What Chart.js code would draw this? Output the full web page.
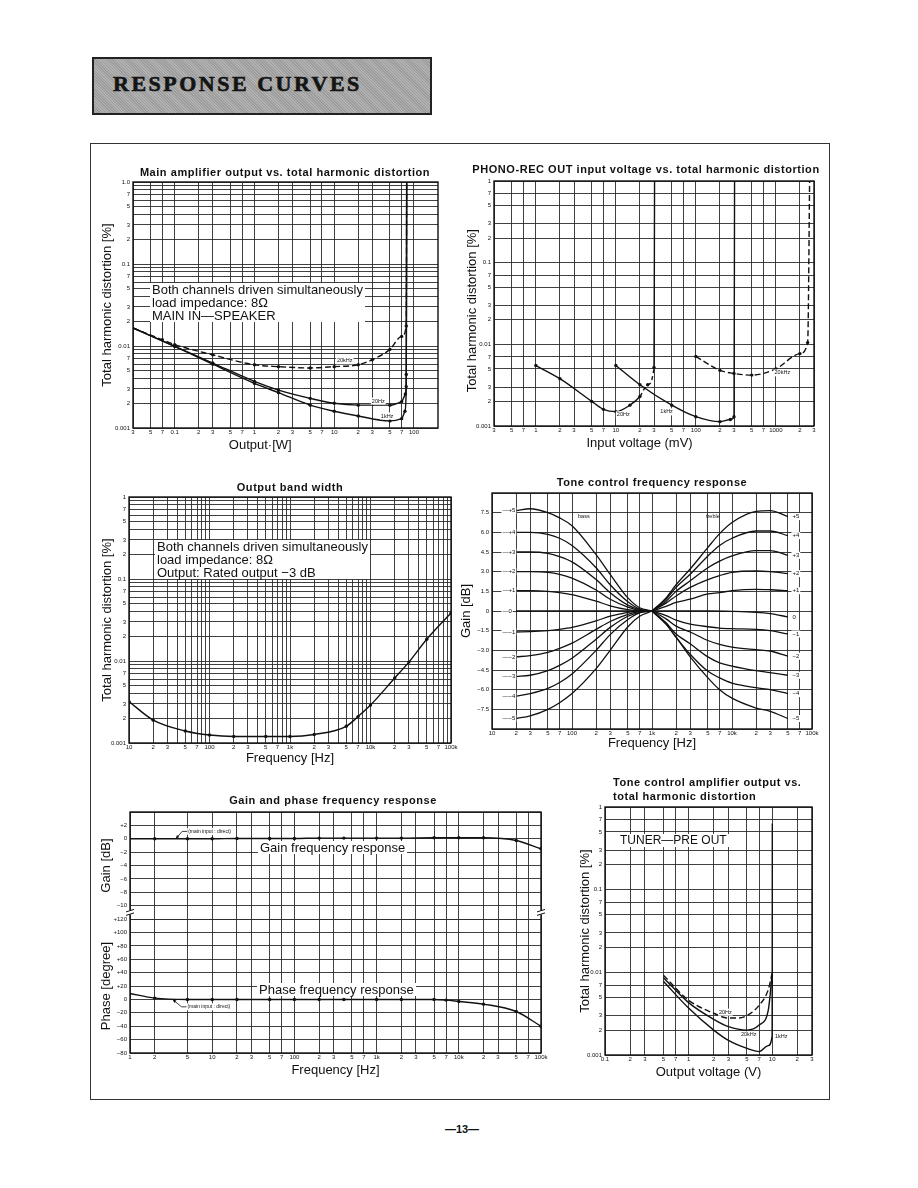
<!DOCTYPE html>
<html>
<head>
<meta charset="utf-8">
<title>Response curves</title>
<script src="https://cdn.jsdelivr.net/npm/chart.js@4.4.1/dist/chart.umd.min.js"></script>
<style>
  html, body { margin: 0; padding: 0; background: #fff; }
  body { position: relative; width: 918px; height: 1188px; overflow: hidden;
         font-family: "Liberation Sans", Arial, sans-serif; color: #111; }
  .abs { position: absolute; }
  canvas { position: absolute; }
  #banner { left: 92px; top: 57px; width: 336px; height: 54px; border: 2px solid #222;
            background: repeating-linear-gradient(45deg, #9c9c9c 0 1px, #b2b2b2 1px 2px); }
  #banner span { position: absolute; left: 19px; top: 12px; font: bold 22px "Liberation Serif", "DejaVu Serif", serif;
                 letter-spacing: 2.5px; color: #141414; -webkit-text-stroke: 0.6px #141414; }
  #frame { left: 90px; top: 143px; width: 738px; height: 955px; border: 1.5px solid #333; }
  .title { position: absolute; font-weight: bold; font-size: 11px; letter-spacing: 0.55px; white-space: nowrap; transform: translate(-50%, -50%); }
  .note { position: absolute; background: #fff; font-size: 13px; line-height: 13px; white-space: nowrap; padding: 0 2px; }
  #pageno { left: 462px; top: 1129px; font-weight: bold; font-size: 11px; transform: translate(-50%, -50%); }
</style>
</head>
<body>
<div id="banner" class="abs"><span>RESPONSE CURVES</span></div>
<div id="frame" class="abs"></div>

<canvas id="c1"></canvas>
<canvas id="c2"></canvas>
<canvas id="c3"></canvas>
<canvas id="c4"></canvas>
<canvas id="c5"></canvas>
<canvas id="c6"></canvas>

<div class="title" style="left:285px;top:172px">Main amplifier output vs. total harmonic distortion</div>
<div class="title" style="left:646px;top:169px">PHONO-REC OUT input voltage vs. total harmonic distortion</div>
<div class="title" style="left:290px;top:487px">Output band width</div>
<div class="title" style="left:652px;top:482px">Tone control frequency response</div>
<div class="title" style="left:333px;top:800px">Gain and phase frequency response</div>
<div class="title" style="left:613px;top:789px;transform:translateY(-50%);line-height:14px">Tone control amplifier output vs.<br>total harmonic distortion</div>

<div class="note" style="left:150px;top:283px">Both channels driven simultaneously<br>load impedance: 8Ω<br>MAIN IN—SPEAKER</div>
<div class="note" style="left:155px;top:540px">Both channels driven simultaneously<br>load impedance: 8Ω<br>Output: Rated output −3 dB</div>
<div class="note" style="left:258px;top:841px">Gain frequency response</div>
<div class="note" style="left:257px;top:983px">Phase frequency response</div>
<div class="note" style="left:618px;top:834px;font-size:12px">TUNER—PRE OUT</div>

<div id="pageno" class="abs">—13—</div>

<script>
const FONT = '"Liberation Sans", Arial, sans-serif';
const INK = '#111';

// ---------- axis ticks / labels ----------
const ampWTicks = [0.03, 0.05, 0.07, 0.1, 0.2, 0.3, 0.5, 0.7, 1, 2, 3, 5, 7, 10, 20, 30, 50, 70, 100];
const ampWLabels = ['3', '5', '7', '0.1', '2', '3', '5', '7', '1', '2', '3', '5', '7', '10', '2', '3', '5', '7', '100'];
const thdTicks = [0.001, 0.002, 0.003, 0.005, 0.007, 0.01, 0.02, 0.03, 0.05, 0.07, 0.1, 0.2, 0.3, 0.5, 0.7, 1];
const thdLabels = ['0.001', '2', '3', '5', '7', '0.01', '2', '3', '5', '7', '0.1', '2', '3', '5', '7', '1'];
const ampThdLabels = ['0.001', '2', '3', '5', '7', '0.01', '2', '3', '5', '7', '0.1', '2', '3', '5', '7', '1.0'];
const mvTicks = [0.3, 0.5, 0.7, 1, 2, 3, 5, 7, 10, 20, 30, 50, 70, 100, 200, 300, 500, 700, 1000, 2000, 3000];
const mvLabels = ['3', '5', '7', '1', '2', '3', '5', '7', '10', '2', '3', '5', '7', '100', '2', '3', '5', '7', '1000', '2', '3'];
const hzTicks = [10, 20, 30, 50, 70, 100, 200, 300, 500, 700, 1000, 2000, 3000, 5000, 7000,
                 10000, 20000, 30000, 50000, 70000, 100000];
const hzLabels = ['10', '2', '3', '5', '7', '100', '2', '3', '5', '7', '1k', '2', '3', '5', '7',
                  '10k', '2', '3', '5', '7', '100k'];
const gpHzTicks = [1, 2, 5, 10, 20, 30, 50, 70, 100, 200, 300, 500, 700, 1000, 2000, 3000, 5000, 7000,
                   10000, 20000, 30000, 50000, 70000, 100000];
const gpHzLabels = ['1', '2', '5', '10', '2', '3', '5', '7', '100', '2', '3', '5', '7', '1k', '2', '3', '5', '7',
                    '10k', '2', '3', '5', '7', '100k'];
const toneTicks = [-9, -7.5, -6, -4.5, -3, -1.5, 0, 1.5, 3, 4.5, 6, 7.5, 9];
const toneLabels = ['', '−7.5', '−6.0', '−4.5', '−3.0', '−1.5', '0', '1.5', '3.0', '4.5', '6.0', '7.5', ''];
const gainTicks = [-12, -10, -8, -6, -4, -2, 0, 2, 4];
const gainLabels = ['', '−10', '−8', '−6', '−4', '−2', '0', '+2', ''];
const phaseTicks = [-80, -60, -40, -20, 0, 20, 40, 60, 80, 100, 120];
const phaseLabels = ['−80', '−60', '−40', '−20', '0', '+20', '+40', '+60', '+80', '+100', '+120'];
const voltTicks = [0.1, 0.2, 0.3, 0.5, 0.7, 1, 2, 3, 5, 7, 10, 20, 30];
const voltLabels = ['0.1', '2', '3', '5', '7', '1', '2', '3', '5', '7', '10', '2', '3'];

// ---------- main amplifier output vs THD ----------
const ampW20k = [0.03, 0.07, 0.1, 0.3, 1, 2, 5, 10, 20, 30, 50, 70, 80, 81];
const ampThd20k = [0.0166, 0.0119, 0.0104, 0.0078, 0.0059, 0.0056, 0.0054, 0.0056, 0.0059, 0.0068, 0.0091, 0.0131, 0.0175, 1.2];
const ampW20 = [0.03, 0.1, 0.3, 1, 2, 5, 10, 20, 50, 70, 78, 80, 81];
const ampThd20 = [0.0166, 0.0099, 0.0062, 0.0037, 0.0029, 0.0023, 0.0020, 0.0019, 0.0019, 0.0021, 0.0026, 0.0045, 1.2];
const ampW1k = [0.03, 0.1, 0.3, 1, 2, 5, 10, 20, 50, 70, 77, 80, 81];
const ampThd1k = [0.0166, 0.0099, 0.006, 0.0035, 0.0027, 0.0019, 0.0016, 0.0014, 0.00122, 0.0013, 0.0016, 0.0032, 1.2];

// ---------- PHONO-REC OUT ----------
const phonoMv20 = [1, 2, 5, 7, 10, 15, 20, 25, 30, 30.5];
const phonoThd20 = [0.0055, 0.0038, 0.002, 0.0016, 0.0015, 0.0018, 0.0023, 0.0032, 0.0052, 1.2];
const phonoMv1k = [10, 20, 50, 100, 200, 270, 300, 305];
const phonoThd1k = [0.0055, 0.0032, 0.0018, 0.0013, 0.00113, 0.0012, 0.0013, 1.2];
const phonoMv20k = [100, 200, 300, 500, 1000, 2000, 2500, 2650];
const phonoThd20k = [0.0071, 0.0048, 0.0044, 0.0042, 0.005, 0.0077, 0.0105, 1.2];

// ---------- output band width ----------
const bwHz = [10, 20, 50, 100, 200, 500, 1000, 2000, 5000, 7000, 10000, 20000, 30000, 50000, 100000];
const bwThd = [0.0032, 0.0019, 0.0014, 0.00125, 0.0012, 0.0012, 0.0012, 0.00127, 0.0016, 0.0021, 0.0029, 0.0062, 0.0097, 0.0184, 0.0385];

// ---------- tone control (dB) ----------
const toneNames = ['+5', '+4', '+3', '+2', '+1', '−1', '−2', '−3', '−4', '−5'];
const bassHz = [20, 30, 50, 70, 100, 200, 300, 500, 700, 1000];
const bassP5 = [7.65, 7.8, 7.5, 7.1, 6.5, 4.3, 2.8, 1.0, 0.25, 0];
const bassP4 = [6.0, 6.0, 5.85, 5.55, 5.0, 3.3, 2.0, 0.7, 0.15, 0];
const bassP3 = [4.5, 4.5, 4.4, 4.15, 3.75, 2.4, 1.4, 0.45, 0.1, 0];
const bassP2 = [3.0, 3.0, 2.95, 2.8, 2.5, 1.6, 0.9, 0.3, 0.05, 0];
const bassP1 = [1.55, 1.55, 1.5, 1.4, 1.25, 0.75, 0.4, 0.1, 0, 0];
const bassM1 = [-1.6, -1.58, -1.5, -1.4, -1.25, -0.75, -0.4, -0.1, 0, 0];
const bassM2 = [-3.5, -3.4, -3.15, -2.85, -2.45, -1.4, -0.8, -0.25, -0.05, 0];
const bassM3 = [-5.0, -4.9, -4.55, -4.15, -3.6, -2.15, -1.25, -0.4, -0.1, 0];
const bassM4 = [-6.5, -6.3, -5.9, -5.45, -4.8, -3.0, -1.8, -0.65, -0.15, 0];
const bassM5 = [-8.2, -8.0, -7.5, -7.0, -6.3, -4.4, -3.0, -1.2, -0.4, 0];
const trebHz = [1000, 1500, 2000, 3000, 5000, 7000, 10000, 20000, 30000, 50000];
const trebP5 = [0, 1.0, 2.0, 3.2, 4.85, 5.9, 6.75, 7.6, 7.65, 7.2];
const trebP4 = [0, 0.9, 1.8, 2.8, 4.2, 5.0, 5.55, 6.1, 6.1, 5.75];
const trebP3 = [0, 0.75, 1.5, 2.3, 3.3, 3.8, 4.2, 4.6, 4.6, 4.25];
const trebP2 = [0, 0.6, 1.15, 1.8, 2.4, 2.7, 2.95, 3.05, 3.0, 2.85];
const trebP1 = [0, 0.35, 0.65, 0.9, 1.3, 1.4, 1.55, 1.65, 1.62, 1.55];
const trebM1 = [0, -0.35, -0.7, -1.0, -1.2, -1.3, -1.35, -1.4, -1.5, -1.75];
const trebM2 = [0, -0.6, -1.15, -1.6, -2.25, -2.55, -2.75, -2.95, -3.05, -3.45];
const trebM3 = [0, -0.9, -1.75, -2.5, -3.5, -3.95, -4.2, -4.55, -4.7, -4.9];
const trebM4 = [0, -1.0, -2.0, -3.3, -4.6, -5.1, -5.5, -5.85, -6.0, -6.3];
const trebM5 = [0, -1.0, -2.0, -3.5, -5.1, -6.0, -6.65, -7.4, -7.65, -8.2];
const flatHz = [20, 100, 1000, 5000, 10000, 20000, 30000, 50000];
const flat0 = [0, 0, 0, 0, -0.03, -0.1, -0.2, -0.45];

// ---------- gain and phase ----------
const gainHz = [1, 2, 5, 10, 20, 50, 100, 200, 400, 1000, 2000, 5000, 10000, 20000, 50000, 100000];
const gainDb = [0, 0, 0, 0, 0.05, 0.05, 0.05, 0.1, 0.1, 0.1, 0.1, 0.15, 0.15, 0.15, -0.25, -1.5];
const phaseHz = [1, 2, 5, 10, 20, 50, 100, 200, 400, 1000, 2000, 5000, 7000, 10000, 20000, 50000, 100000];
const phaseDeg = [9, 2, 0, 0, 0, 0, 0, 0, 0, 0, 0, 0, -1, -3, -7, -18, -40];

// ---------- tone control amplifier output vs THD ----------
const tcV20 = [0.5, 1, 2, 3, 4, 5, 7, 9, 10];
const tcThd20 = [0.0092, 0.0046, 0.0032, 0.0028, 0.0028, 0.003, 0.004, 0.0062, 0.0098];
const tcV20k = [0.5, 1, 2, 3, 5, 7, 9, 10];
const tcThd20k = [0.0086, 0.0043, 0.0027, 0.0022, 0.002, 0.0023, 0.0035, 0.0095];
const tcV1k = [0.5, 1, 2, 3, 5, 7, 9, 10, 10.05];
const tcThd1k = [0.0078, 0.0037, 0.002, 0.0015, 0.0012, 0.0011, 0.0013, 0.0017, 0.63];

// gridlines at every 1..9 step of a decade
function logGrid(min, max, mults) {
  const out = [];
  for (let e = Math.floor(Math.log10(min)); e <= Math.ceil(Math.log10(max)); e++) {
    for (const m of mults) {
      const v = +(m * Math.pow(10, e)).toPrecision(6);
      if (v >= min * 0.9999 && v <= max * 1.0001) out.push(v);
    }
  }
  return out;
}
const ALL = [1, 2, 3, 4, 5, 6, 7, 8, 9];

function labelFor(v, ticks, labels) {
  const i = ticks.findIndex(t => Math.abs(t - v) <= Math.abs(t) * 1e-6);
  return i < 0 ? '' : labels[i];
}

function scale(o) {
  const grid = o.grid || o.ticks;
  const horiz = o.pos === 'bottom';
  return {
    type: o.type || 'logarithmic',
    position: o.pos,
    min: o.min, max: o.max,
    stack: o.stack, stackWeight: o.stackWeight, weight: o.weight || 0,
    grid: { color: '#2b2b2b', lineWidth: 0.9, drawTicks: false },
    border: { display: false },
    ticks: {
      autoSkip: false, maxRotation: 0, padding: horiz ? 1 : 3, color: INK,
      font: { family: FONT, size: 6 },
      callback: v => labelFor(v, o.ticks, o.labels)
    },
    title: { display: !!o.title, text: o.title, color: INK, font: { family: FONT, size: 13 }, padding: 0 },
    afterBuildTicks: s => { s.ticks = grid.map(v => ({ value: v })); },
    afterFit: s => {
      if (s.isHorizontal()) s.height = o.size; else s.width = o.size;
      s.paddingLeft = s.paddingRight = s.paddingTop = s.paddingBottom = 0;
    }
  };
}

function curve(xs, ys, o = {}) {
  const n = xs.length;
  return {
    data: xs.map((x, i) => ({ x, y: ys[i] })),
    borderColor: INK, borderWidth: o.w || 1.4, borderDash: o.dash || [],
    cubicInterpolationMode: 'monotone', fill: false,
    pointRadius: xs.map((x, i) => {
      if (o.dots === false) return 0;
      if (o.rise && i === n - 1) return 0;
      if (o.skipFirst && i === 0) return 0;
      return 1.7;
    }),
    pointBackgroundColor: INK, pointBorderWidth: 0,
    yAxisID: o.axis || 'y',
    segment: o.segment
  };
}

// text placed at data coordinates
const curveText = {
  id: 'curveText',
  afterDatasetsDraw(chart, args, opts) {
    const ctx = chart.ctx;
    (opts.items || []).forEach(t => {
      const px = chart.scales.x.getPixelForValue(t.x);
      const py = chart.scales[t.axis || 'y'].getPixelForValue(t.y);
      ctx.save();
      ctx.font = (t.size || 6) + 'px ' + FONT;
      ctx.textAlign = 'left';
      ctx.textBaseline = 'middle';
      const w = ctx.measureText(t.text).width;
      if (t.bg) { ctx.fillStyle = '#fff'; ctx.fillRect(px - 1, py - 3.5, w + 2, 7); }
      ctx.fillStyle = INK;
      ctx.fillText(t.text, px, py);
      if (t.arrowTo) {
        const ax = chart.scales.x.getPixelForValue(t.arrowTo[0]);
        const ay = chart.scales[t.axis || 'y'].getPixelForValue(t.arrowTo[1]);
        ctx.strokeStyle = INK; ctx.lineWidth = 0.8;
        ctx.beginPath(); ctx.moveTo(px - 1, py); ctx.lineTo(px - 6, py); ctx.lineTo(ax, ay); ctx.stroke();
        const a = Math.atan2(ay - py, ax - (px - 6));
        ctx.beginPath();
        ctx.moveTo(ax, ay);
        ctx.lineTo(ax - 4 * Math.cos(a - 0.4), ay - 4 * Math.sin(a - 0.4));
        ctx.lineTo(ax - 4 * Math.cos(a + 0.4), ay - 4 * Math.sin(a + 0.4));
        ctx.closePath(); ctx.fillStyle = INK; ctx.fill();
      }
      ctx.restore();
    });
  }
};

// heavier border round the plot area
const plotFrame = {
  id: 'plotFrame',
  afterDraw(chart) {
    const { ctx, chartArea: a } = chart;
    ctx.save();
    ctx.strokeStyle = INK; ctx.lineWidth = 1.4;
    ctx.strokeRect(a.left, a.top, a.right - a.left, a.bottom - a.top);
    ctx.restore();
  }
};
Chart.register(curveText, plotFrame);

const PAD_TOP = 8, PAD_RIGHT = 14;
function place(id, plot, wy, hx) {
  const c = document.getElementById(id);
  c.width = wy + plot.r - plot.l + PAD_RIGHT;
  c.height = PAD_TOP + plot.b - plot.t + hx;
  c.style.left = (plot.l - wy) + 'px';
  c.style.top = (plot.t - PAD_TOP) + 'px';
  return c;
}

function plotChart(id, plot, wy, hx, scales, datasets, notes, extra) {
  return new Chart(place(id, plot, wy, hx), {
    type: 'line',
    data: { datasets },
    options: {
      responsive: false, animation: false,
      layout: { padding: { top: PAD_TOP, right: PAD_RIGHT, left: 0, bottom: 0 } },
      scales,
      plugins: { legend: { display: false }, tooltip: { enabled: false }, curveText: { items: notes || [] } }
    },
    plugins: extra || []
  });
}

// 1. Main amplifier output vs. THD
plotChart('c1', { l: 133, t: 182, r: 438, b: 428 }, 33, 25, {
  x: scale({ pos: 'bottom', min: 0.03, max: 200, ticks: ampWTicks, labels: ampWLabels,
             title: 'Output·[W]' + '\u00a0'.repeat(14), size: 25 }),
  y: scale({ pos: 'left', min: 0.001, max: 1, ticks: thdTicks, labels: ampThdLabels,
             grid: logGrid(0.001, 1, ALL), title: 'Total harmonic distortion [%]', size: 33 })
}, [
  curve(ampW20k, ampThd20k, { dash: [6, 3], rise: true, skipFirst: true }),
  curve(ampW20, ampThd20, { rise: true, skipFirst: true }),
  curve(ampW1k, ampThd1k, { rise: true, skipFirst: true })
], [
  { x: 10.8, y: 0.0066, text: '20kHz', size: 5.5, bg: true },
  { x: 29.6, y: 0.00213, text: '20Hz', size: 5.5, bg: true },
  { x: 38.4, y: 0.0014, text: '1kHz', size: 5.5, bg: true }
]);

// 2. PHONO-REC OUT input voltage vs. THD
plotChart('c2', { l: 494, t: 181, r: 814, b: 426 }, 29, 25, {
  x: scale({ pos: 'bottom', min: 0.3, max: 3000, ticks: mvTicks, labels: mvLabels,
             title: 'Input voltage (mV)' + '\u00a0'.repeat(8), size: 25 }),
  y: scale({ pos: 'left', min: 0.001, max: 1, ticks: thdTicks, labels: thdLabels,
             title: 'Total harmonic distortion [%]' + '\u00a0'.repeat(4), size: 29 })
}, [
  curve(phonoMv20, phonoThd20, { rise: true,
        segment: { borderDash: c => (c.p0.parsed.x >= 20 && c.p1.parsed.x <= 30 ? [4, 3] : undefined) } }),
  curve(phonoMv1k, phonoThd1k, { rise: true }),
  curve(phonoMv20k, phonoThd20k, { dash: [6, 3], rise: true })
], [
  { x: 10.3, y: 0.00137, text: '20Hz', size: 5.5, bg: true },
  { x: 36, y: 0.00149, text: '1kHz', size: 5.5, bg: true },
  { x: 964, y: 0.00447, text: '20kHz', size: 5.5, bg: true }
]);

// 3. Output band width
plotChart('c3', { l: 129, t: 497, r: 451, b: 743 }, 29, 23, {
  x: scale({ pos: 'bottom', min: 10, max: 100000, ticks: hzTicks, labels: hzLabels,
             grid: logGrid(10, 100000, ALL), title: 'Frequency [Hz]', size: 23 }),
  y: scale({ pos: 'left', min: 0.001, max: 1, ticks: thdTicks, labels: thdLabels,
             grid: logGrid(0.001, 1, ALL), title: 'Total harmonic distortion [%]', size: 29 })
}, [curve(bwHz, bwThd)]);

// 4. Tone control frequency response
const bassSet = [bassP5, bassP4, bassP3, bassP2, bassP1, bassM1, bassM2, bassM3, bassM4, bassM5];
const trebSet = [trebP5, trebP4, trebP3, trebP2, trebP1, trebM1, trebM2, trebM3, trebM4, trebM5];
const toneNotes = [
  { x: 13.5, y: 0, text: '—0', bg: true },
  { x: 57000, y: flat0[flat0.length - 1], text: '0', bg: true },
  { x: 119, y: 7.2, text: 'bass', size: 5.5 },
  { x: 4730, y: 7.2, text: 'treble', size: 5.5 }
];
toneNames.forEach((n, i) => {
  toneNotes.push({ x: 13.5, y: bassSet[i][0], text: '—' + n, bg: true });
  toneNotes.push({ x: 57000, y: trebSet[i][trebSet[i].length - 1], text: n, bg: true });
});
plotChart('c4', { l: 492, t: 493, r: 812, b: 729 }, 33, 22, {
  x: scale({ pos: 'bottom', min: 10, max: 100000, ticks: hzTicks, labels: hzLabels,
             title: 'Frequency [Hz]', size: 22 }),
  y: scale({ type: 'linear', pos: 'left', min: -9, max: 9, ticks: toneTicks, labels: toneLabels,
             title: 'Gain [dB]', size: 33 })
}, [
  ...bassSet.map(ys => curve(bassHz, ys, { dots: false, w: 1.3 })),
  ...trebSet.map(ys => curve(trebHz, ys, { dots: false, w: 1.3 })),
  curve(flatHz, flat0, { dots: false, w: 1.3 })
], toneNotes);

// 5. Gain and phase frequency response
const breakMarks = {
  id: 'breakMarks',
  afterDraw(chart) {
    const { ctx, chartArea: a } = chart;
    const y = chart.scales.yG.getPixelForValue(-11);
    [a.left, a.right].forEach(x => {
      ctx.save();
      ctx.fillStyle = '#fff'; ctx.fillRect(x - 3, y - 2, 6, 4);
      ctx.strokeStyle = INK; ctx.lineWidth = 1;
      ctx.beginPath();
      ctx.moveTo(x - 4, y - 0.5); ctx.lineTo(x + 4, y - 3);
      ctx.moveTo(x - 4, y + 3); ctx.lineTo(x + 4, y + 0.5);
      ctx.stroke();
      ctx.restore();
    });
  }
};
plotChart('c5', { l: 130, t: 812, r: 541, b: 1053 }, 31, 25, {
  x: scale({ pos: 'bottom', min: 1, max: 100000, ticks: gpHzTicks, labels: gpHzLabels,
             title: 'Frequency [Hz]', size: 25 }),
  yG: scale({ type: 'linear', pos: 'left', min: -12, max: 4, ticks: gainTicks, labels: gainLabels,
              stack: 'gp', stackWeight: 8, weight: 1, title: 'Gain [dB]', size: 31 }),
  yP: scale({ type: 'linear', pos: 'left', min: -80, max: 120, ticks: phaseTicks, labels: phaseLabels,
              stack: 'gp', stackWeight: 10, weight: 0, title: 'Phase [degree]', size: 31 })
}, [
  curve(gainHz, gainDb, { axis: 'yG', skipFirst: true }),
  curve(phaseHz, phaseDeg, { axis: 'yP', skipFirst: true })
], [
  { x: 5.1, y: 1.1, axis: 'yG', text: '(main input : direct)', size: 5, bg: true, arrowTo: [3.6, 0] },
  { x: 5.0, y: -11, axis: 'yP', text: '(main input : direct)', size: 5, bg: true, arrowTo: [3.3, 0] }
], [breakMarks]);

// 6. Tone control amplifier output vs. THD
plotChart('c6', { l: 605, t: 807, r: 812, b: 1055 }, 27, 25, {
  x: scale({ pos: 'bottom', min: 0.1, max: 30, ticks: voltTicks, labels: voltLabels,
             title: 'Output voltage (V)', size: 25 }),
  y: scale({ pos: 'left', min: 0.001, max: 1, ticks: thdTicks, labels: thdLabels,
             title: 'Total harmonic distortion [%]', size: 27 })
}, [
  curve(tcV20, tcThd20, { dash: [6, 3], dots: false }),
  curve(tcV20k, tcThd20k, { dots: false }),
  curve(tcV1k, tcThd1k, { dots: false })
], [
  { x: 2.31, y: 0.0033, text: '20Hz', size: 5.5, bg: true },
  { x: 4.24, y: 0.00175, text: '20kHz', size: 5.5, bg: true },
  { x: 10.8, y: 0.00166, text: '1kHz', size: 5.5, bg: true }
]);
</script>
</body>
</html>
